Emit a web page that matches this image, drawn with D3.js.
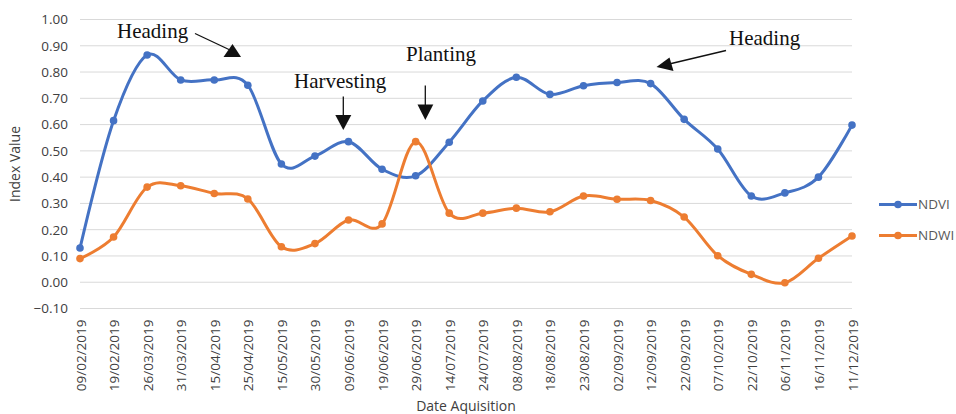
<!DOCTYPE html>
<html>
<head>
<meta charset="utf-8">
<script src="https://cdn.jsdelivr.net/npm/d3@7"></script>
<style>
  body { margin: 0; background: #fff; }
  svg { display: block; }
  .tick-label { font-family: "Open Sans", sans-serif; font-size: 13.5px; fill: #404040; }
  .anno { font-family: "Liberation Serif", serif; font-size: 21px; fill: #111; }
</style>
</head>
<body>
<svg id="chart" width="956" height="414"></svg>
<script>
const dates = ["09/02/2019","19/02/2019","26/03/2019","31/03/2019","15/04/2019","25/04/2019",
  "15/05/2019","30/05/2019","09/06/2019","19/06/2019","29/06/2019","14/07/2019","24/07/2019",
  "08/08/2019","18/08/2019","23/08/2019","02/09/2019","12/09/2019","22/09/2019","07/10/2019",
  "22/10/2019","06/11/2019","16/11/2019","11/12/2019"];

const ndvi = [0.13, 0.615, 0.865, 0.77, 0.77, 0.75, 0.45, 0.48, 0.535, 0.43, 0.405, 0.533,
  0.69, 0.78, 0.715, 0.748, 0.76, 0.756, 0.62, 0.507, 0.328, 0.34, 0.40, 0.598];

const ndwi = [0.09, 0.172, 0.362, 0.367, 0.338, 0.317, 0.135, 0.147, 0.237, 0.222, 0.535, 0.263,
  0.263, 0.282, 0.268, 0.328, 0.316, 0.311, 0.248, 0.101, 0.03, -0.002, 0.091, 0.176];

const yTicks = [-0.1, 0, 0.1, 0.2, 0.3, 0.4, 0.5, 0.6, 0.7, 0.8, 0.9, 1.0];

const seriesNames = ["NDVI", "NDWI"];
const seriesColors = ["#4472C4", "#ED7D31"];

const svg = d3.select("#chart");

const x = d3.scalePoint().domain(dates).range([80, 852]);
const y = d3.scaleLinear().domain([-0.1, 1.0]).range([308.5, 19.5]);

// gridlines
svg.append("g")
  .selectAll("line")
  .data(yTicks)
  .join("line")
  .attr("x1", 80).attr("x2", 852)
  .attr("y1", d => y(d)).attr("y2", d => y(d))
  .attr("stroke", "#d9d9d9").attr("stroke-width", 1);

// y axis labels
const yAxis = svg.append("g")
  .attr("transform", "translate(80,0)")
  .call(d3.axisLeft(y).tickValues(yTicks).tickFormat(d3.format(".2f")).tickSize(0).tickPadding(12));
yAxis.select(".domain").remove();
yAxis.selectAll("text").attr("class", "tick-label").attr("font-family", null).attr("font-size", null);

// x axis labels
const xAxis = svg.append("g")
  .attr("transform", "translate(0,308.5)")
  .call(d3.axisBottom(x).tickSize(0).tickPadding(0));
xAxis.select(".domain").remove();
xAxis.selectAll("text")
  .attr("class", "tick-label")
  .attr("font-family", null).attr("font-size", null)
  .attr("text-anchor", "end")
  .attr("dy", null).attr("y", 0)
  .attr("transform", "translate(5,11) rotate(-90)");

// axis titles
svg.append("text")
  .attr("class", "tick-label")
  .attr("transform", `translate(20,${(19.5 + 308.5) / 2}) rotate(-90)`)
  .attr("text-anchor", "middle")
  .style("font-size", "14px")
  .text("Index Value");

svg.append("text")
  .attr("class", "tick-label")
  .attr("x", 466).attr("y", 411)
  .attr("text-anchor", "middle")
  .style("font-size", "14px")
  .text("Date Aquisition");

// lines
const line = d3.line()
  .x((d, i) => x(dates[i]))
  .y(d => y(d))
  .curve(d3.curveCatmullRom.alpha(0));

[ndvi, ndwi].forEach((vals, k) => {
  const g = svg.append("g");
  g.append("path")
    .datum(vals)
    .attr("d", line)
    .attr("fill", "none")
    .attr("stroke", seriesColors[k])
    .attr("stroke-width", 3)
    .attr("stroke-linejoin", "round");
  g.selectAll("circle")
    .data(vals)
    .join("circle")
    .attr("cx", (d, i) => x(dates[i]))
    .attr("cy", d => y(d))
    .attr("r", 3.8)
    .attr("fill", seriesColors[k]);
});

// legend
const legend = svg.append("g");
seriesNames.forEach((name, k) => {
  const ly = 204.5 + k * 31;
  legend.append("line")
    .attr("x1", 879).attr("x2", 917).attr("y1", ly).attr("y2", ly)
    .attr("stroke", seriesColors[k]).attr("stroke-width", 3);
  legend.append("circle").attr("cx", 898).attr("cy", ly).attr("r", 3.8).attr("fill", seriesColors[k]);
  legend.append("text")
    .attr("class", "tick-label")
    .attr("x", 918).attr("y", ly + 4.5)
    .style("fill", "#595959")
    .text(name);
});

// annotations
const annotations = [
  { text: "Heading", x: 117, y: 38,
    line: [[195, 33.5], [230, 50]], head: [[223.5, 57], [241, 57], [232.5, 44]] },
  { text: "Harvesting", x: 294, y: 88,
    line: [[343.3, 96.5], [343.3, 116]], head: [[335.3, 115], [351.3, 115], [343.3, 130]] },
  { text: "Planting", x: 406, y: 60.5,
    line: [[425.3, 85.5], [425.3, 106]], head: [[417.5, 104.5], [433.3, 104.5], [425.3, 120]] },
  { text: "Heading", x: 729, y: 45,
    line: [[726, 50.5], [665, 65]], head: [[656.5, 67], [673.5, 71], [669.5, 57.5]] }
];

const ag = svg.append("g");
annotations.forEach(a => {
  ag.append("text").attr("class", "anno").attr("x", a.x).attr("y", a.y).text(a.text);
  ag.append("line")
    .attr("x1", a.line[0][0]).attr("y1", a.line[0][1])
    .attr("x2", a.line[1][0]).attr("y2", a.line[1][1])
    .attr("stroke", "#111").attr("stroke-width", 1.3);
  ag.append("polygon")
    .attr("points", a.head.map(p => p.join(",")).join(" "))
    .attr("fill", "#111");
});
</script>
</body>
</html>
